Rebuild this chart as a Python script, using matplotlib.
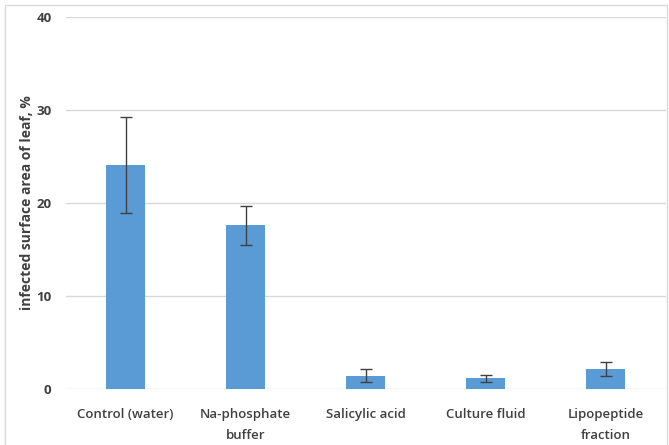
import matplotlib.pyplot as plt
import numpy as np
from matplotlib.patches import Rectangle

categories = ["Control (water)", "Na-phosphate\nbuffer", "Salicylic acid",
              "Culture fluid", "Lipopeptide\nfraction"]
values = [24.1, 17.6, 1.4, 1.15, 2.1]
errors = [5.2, 2.1, 0.7, 0.4, 0.75]
yticks = [0, 10, 20, 30, 40]

plt.rcParams['font.family'] = ['Open Sans', 'DejaVu Sans']
text_color = '#404040'

fig = plt.figure(figsize=(6.69, 4.45), dpi=100)
# light chart border
fig.patches.append(Rectangle((5 / 669, -0.05), 662 / 669, 1 - 5 / 445 + 0.05,
                             transform=fig.transFigure, fill=False,
                             edgecolor='#d9d9d9', linewidth=1))
ax = fig.add_axes([65.5 / 669, 1 - 389 / 445, 600 / 669, 372 / 445])

x = np.arange(len(categories))
ax.bar(x, values, width=0.325, color='#5b9bd5', zorder=3)
ax.errorbar(x, values, yerr=errors, fmt='none', ecolor='#404040',
            elinewidth=1, capsize=4, capthick=1, zorder=4)

ax.set_xlim(-0.5, len(categories) - 0.5)
ax.set_ylim(0, 40)
ax.set_yticks(yticks)
ax.set_yticklabels([str(t) for t in yticks], fontsize=9.5, fontweight='bold',
                   color=text_color)
ax.set_xticks(x)
ax.set_xticklabels(categories, fontsize=9.5, fontweight='semibold',
                   color=text_color, linespacing=1.75, va='top')
ax.tick_params(axis='both', length=0)
ax.tick_params(axis='y', pad=10)
ax.tick_params(axis='x', pad=14)
ax.grid(axis='y', color='#d9d9d9', linewidth=1, zorder=0)
for s in ax.spines.values():
    s.set_visible(False)
ax.set_ylabel("infected surface area of leaf, %", fontsize=10,
              fontweight='bold', color=text_color, labelpad=2)

fig.savefig("out.png", dpi=100)
